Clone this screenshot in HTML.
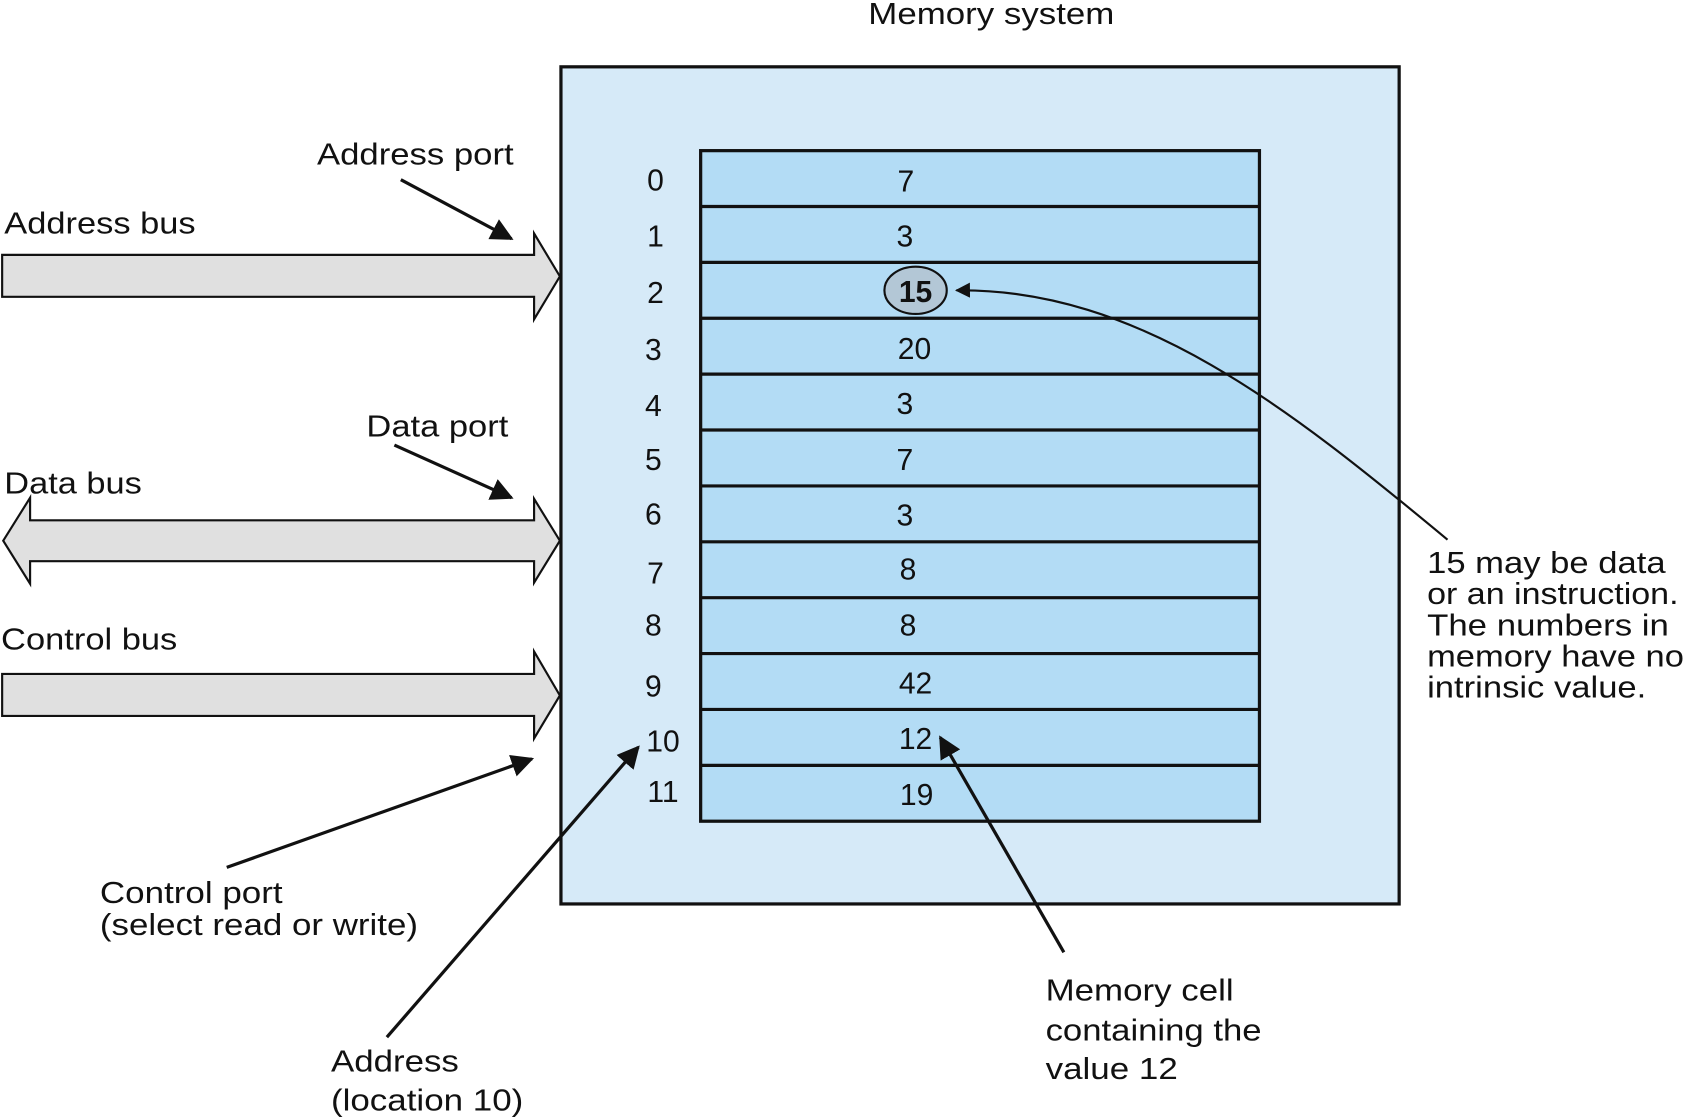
<!DOCTYPE html>
<html><head><style>html,body{margin:0;padding:0;background:#fff}svg{display:block}</style></head>
<body>
<svg width="1685" height="1118" viewBox="0 0 1568 1040" xmlns="http://www.w3.org/2000/svg" font-family="Liberation Sans, Arial, sans-serif" font-size="28" fill="#111">
<defs><marker id="a" viewBox="0 0 10 10" refX="9" refY="5" markerWidth="7" markerHeight="7" orient="auto-start-reverse"><path d="M0,0 L10,5 L0,10 z" fill="#111"/></marker></defs>
<text x="808" y="22" textLength="229" lengthAdjust="spacingAndGlyphs">Memory system</text>
<rect x="522" y="62" width="780" height="779" fill="#d6eaf8" stroke="#111" stroke-width="3"/>
<rect x="652" y="140" width="520" height="624" fill="#b3dcf5" stroke="#111" stroke-width="3"/>
<g stroke="#111" stroke-width="3">
<line x1="652" y1="192" x2="1172" y2="192"/><line x1="652" y1="244" x2="1172" y2="244"/><line x1="652" y1="296" x2="1172" y2="296"/><line x1="652" y1="348" x2="1172" y2="348"/><line x1="652" y1="400" x2="1172" y2="400"/><line x1="652" y1="452" x2="1172" y2="452"/><line x1="652" y1="504" x2="1172" y2="504"/><line x1="652" y1="556" x2="1172" y2="556"/><line x1="652" y1="608" x2="1172" y2="608"/><line x1="652" y1="660" x2="1172" y2="660"/><line x1="652" y1="712" x2="1172" y2="712"/>
</g>
<g text-anchor="middle">
<text x="610" y="177">0</text><text x="610" y="229">1</text><text x="610" y="282">2</text><text x="608" y="335">3</text><text x="608" y="387">4</text><text x="608" y="437">5</text><text x="608" y="488">6</text><text x="610" y="543">7</text><text x="608" y="591">8</text><text x="608" y="648">9</text><text x="617" y="699">10</text><text x="617" y="746">11</text>
<text x="843" y="178">7</text><text x="842" y="229">3</text><text x="851" y="334">20</text><text x="842" y="385">3</text><text x="842" y="437">7</text><text x="842" y="489">3</text><text x="845" y="539">8</text><text x="845" y="591">8</text><text x="852" y="645">42</text><text x="852" y="697">12</text><text x="853" y="749">19</text>
</g>
<ellipse cx="852" cy="270" rx="29" ry="22" fill="#b3c7d6" stroke="#111" stroke-width="2"/>
<text x="852" y="281" text-anchor="middle" font-weight="bold">15</text>
<path d="M1347,502 C1200,380 1060,268 890,270" fill="none" stroke="#111" stroke-width="2" marker-end="url(#a)"/>
<g fill="#e0e0e0" stroke="#111" stroke-width="2">
<path d="M2,237 L497,237 L497,217 L521,257 L497,297 L497,276 L2,276 Z"/>
<path d="M28,484 L497,484 L497,464 L521,503 L497,542 L497,522 L28,522 L28,543 L3,503 L28,463 Z"/>
<path d="M2,627 L497,627 L497,606 L521,647 L497,687 L497,666 L2,666 Z"/>
</g>
<g stroke="#111" stroke-width="3" fill="none" marker-end="url(#a)">
<line x1="373" y1="167" x2="476" y2="222"/>
<line x1="367" y1="414" x2="476" y2="463"/>
<line x1="211" y1="807" x2="495" y2="706"/>
<line x1="360" y1="965" x2="594" y2="695"/>
<line x1="990" y1="886" x2="875" y2="686"/>
</g>
<g lengthAdjust="spacingAndGlyphs">
<text x="295" y="153" textLength="183" lengthAdjust="spacingAndGlyphs">Address port</text>
<text x="4" y="217" textLength="178" lengthAdjust="spacingAndGlyphs">Address bus</text>
<text x="341" y="406" textLength="132" lengthAdjust="spacingAndGlyphs">Data port</text>
<text x="4" y="459" textLength="128" lengthAdjust="spacingAndGlyphs">Data bus</text>
<text x="1" y="604" textLength="164" lengthAdjust="spacingAndGlyphs">Control bus</text>
<text x="93" y="840" textLength="170" lengthAdjust="spacingAndGlyphs">Control port</text>
<text x="93" y="870" textLength="296" lengthAdjust="spacingAndGlyphs">(select read or write)</text>
<text x="308" y="997" textLength="119" lengthAdjust="spacingAndGlyphs">Address</text>
<text x="308" y="1033" textLength="179" lengthAdjust="spacingAndGlyphs">(location 10)</text>
<text x="973" y="931" textLength="175" lengthAdjust="spacingAndGlyphs">Memory cell</text>
<text x="973" y="968" textLength="201" lengthAdjust="spacingAndGlyphs">containing the</text>
<text x="973" y="1004" textLength="123" lengthAdjust="spacingAndGlyphs">value 12</text>
<text x="1328" y="533" textLength="222" lengthAdjust="spacingAndGlyphs">15 may be data</text>
<text x="1328" y="562" textLength="234" lengthAdjust="spacingAndGlyphs">or an instruction.</text>
<text x="1328" y="591" textLength="225" lengthAdjust="spacingAndGlyphs">The numbers in</text>
<text x="1328" y="620" textLength="239" lengthAdjust="spacingAndGlyphs">memory have no</text>
<text x="1328" y="649" textLength="204" lengthAdjust="spacingAndGlyphs">intrinsic value.</text>
</g>
</svg>
</body></html>
